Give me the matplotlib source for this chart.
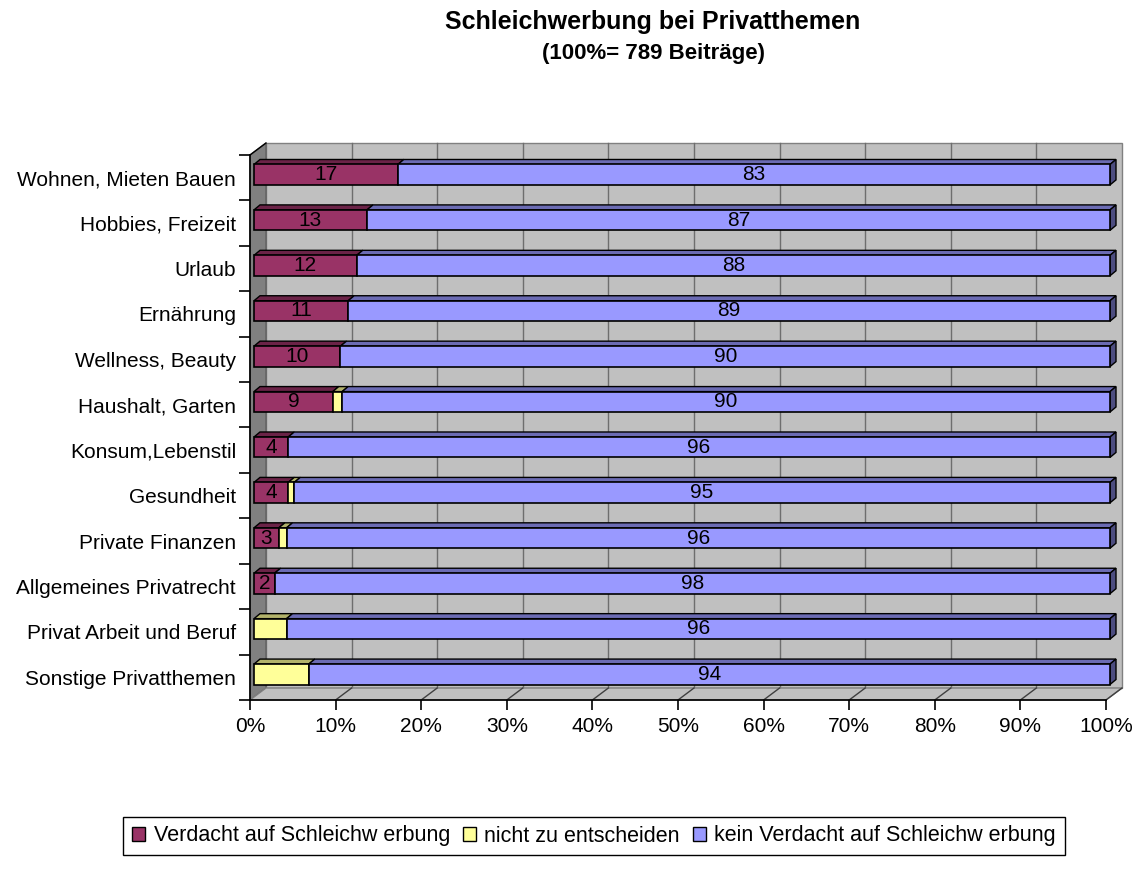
import matplotlib.pyplot as plt
from matplotlib.patches import Polygon, Patch
from matplotlib.lines import Line2D
from matplotlib.transforms import IdentityTransform, offset_copy

plt.rcParams['font.family'] = ['Liberation Sans', 'DejaVu Sans']

categories = ["Wohnen, Mieten Bauen", "Hobbies, Freizeit", "Urlaub", "Ernährung",
              "Wellness, Beauty", "Haushalt, Garten", "Konsum,Lebenstil", "Gesundheit",
              "Private Finanzen", "Allgemeines Privatrecht", "Privat Arbeit und Beruf",
              "Sonstige Privatthemen"]
verdacht = [16.8, 13.2, 12.0, 11.0, 10.1, 9.2, 4.0, 4.0, 2.9, 2.4, 0.0, 0.0]
unklar = [0.0, 0.0, 0.0, 0.0, 0.0, 1.1, 0.0, 0.7, 0.9, 0.0, 3.8, 6.4]
kein = [83.2, 86.8, 88.0, 89.0, 89.9, 89.7, 96.0, 95.3, 96.2, 97.6, 96.2, 93.6]
series_names = ["Verdacht auf Schleichw erbung", "nicht zu entscheiden",
                "kein Verdacht auf Schleichw erbung"]
series = [verdacht, unklar, kein]
show_labels = [True, False, True]
colors = ["#993366", "#FFFF99", "#9999FF"]
tops = ["#6b2347", "#b3b36b", "#6b6bb3"]
sides = ["#4d1a33", "#80804d", "#4d4d80"]
xticks = list(range(0, 101, 10))

W, H = 1138, 874
fig = plt.figure(figsize=(W / 100, H / 100), dpi=100)
ax = fig.add_axes([250 / W, 1 - 700 / H, (1106 - 250) / W, (700 - 155) / H])
ax.set_xlim(0, 100)
ax.set_ylim(len(categories) - 0.5, -0.5)
ax.patch.set_visible(False)
for s in ['top', 'right']:
    ax.spines[s].set_visible(False)
for s in ['left', 'bottom']:
    ax.spines[s].set_linewidth(1.2)
    ax.spines[s].set_zorder(6)

WX, WY = 16, 12       # wall depth in px
BF = (4, 3)           # bar front offset
BB = (10, 8)          # bar back offset
BH = 0.45
y0, y1 = -0.5, len(categories) - 0.5


def P(x, y, dx=0, dy=0):
    px, py = ax.transData.transform((x, y))
    return (px + dx, py + dy)


def poly(pts, fc, ec, lw=1.0, z=1):
    ax.add_patch(Polygon(pts, closed=True, facecolor=fc, edgecolor=ec, linewidth=lw,
                         transform=IdentityTransform(), clip_on=False, zorder=z))


def seg(a, b, color, lw=1.0, z=1):
    ax.add_line(Line2D([a[0], b[0]], [a[1], b[1]], color=color, linewidth=lw,
                       transform=IdentityTransform(), clip_on=False, zorder=z))


# walls
poly([P(0, y0, WX, WY), P(100, y0, WX, WY), P(100, y1, WX, WY), P(0, y1, WX, WY)],
     "#c0c0c0", "#808080", 1.0, 0)
for t in xticks[1:-1]:
    seg(P(t, y0, WX, WY), P(t, y1, WX, WY), "#6e6e6e", 1.0, 0.5)
poly([P(0, y0), P(0, y0, WX, WY), P(0, y1, WX, WY), P(0, y1)], "#808080", "#606060", 1.0, 1)
poly([P(0, y1), P(100, y1), P(100, y1, WX, WY), P(0, y1, WX, WY)], "#c0c0c0", "#808080", 1.0, 1)
for t in xticks[1:]:
    seg(P(t, y1), P(t, y1, WX, WY), "#404040", 1.0, 1.5)
seg(P(0, y0), P(0, y0, WX, WY), "black", 1.0, 1.5)

# bars
front = offset_copy(ax.transData, fig=fig, x=BF[0], y=BF[1], units='dots')
ys = list(range(len(categories)))
lefts = [0.0] * len(categories)
for k, vals in enumerate(series):
    idx = [i for i in ys if vals[i] > 0]
    ax.barh([ys[i] for i in idx], [vals[i] for i in idx], left=[lefts[i] for i in idx],
            height=BH, color=colors[k], edgecolor="black", linewidth=1.2,
            transform=front, clip_on=False, zorder=3)
    for i in idx:
        l, w, yt = lefts[i], vals[i], ys[i] - BH / 2
        poly([P(l, yt, *BF), P(l + w, yt, *BF), P(l + w, yt, *BB), P(l, yt, *BB)],
             tops[k], "black", 1.0, 2.5)
        if k == len(series) - 1:
            yb = ys[i] + BH / 2
            poly([P(l + w, yt, *BF), P(l + w, yt, *BB), P(l + w, yb, *BB), P(l + w, yb, *BF)],
                 sides[k], "black", 1.0, 2.5)
        if show_labels[k]:
            ax.text(l + w / 2, ys[i], str(round(w)), transform=front, ha="center",
                    va="center", fontsize=15, zorder=5)
    lefts = [lefts[i] + vals[i] for i in ys]

# axes ticks
ax.set_yticks(ys)
ax.set_yticklabels(categories, fontsize=15)
ax.tick_params(axis='y', which='major', length=0, pad=10)
ax.set_yticks([y - 0.5 for y in ys] + [y1], minor=True)
ax.tick_params(axis='y', which='minor', length=8, width=1.2, direction='out')
ax.set_xticks(xticks)
ax.set_xticklabels([f"{t}%" for t in xticks], fontsize=15)
ax.tick_params(axis='x', length=7, width=1.2, pad=5)

# title
fig.text(653 / W, 1 - 22 / H, "Schleichwerbung bei Privatthemen", ha="center", va="center",
         fontsize=18, fontweight="bold")
fig.text(653 / W, 1 - 53 / H, "(100%= 789 Beiträge)", ha="center", va="center",
         fontsize=16, fontweight="bold")

# legend
handles = [Patch(facecolor=c, edgecolor="black", linewidth=1.0) for c in colors]
leg = fig.legend(handles, series_names, loc="center", bbox_to_anchor=(594 / W, 1 - 836 / H),
                 ncol=3, fancybox=False, edgecolor="black", framealpha=1, fontsize=15.5,
                 handlelength=0.6, handleheight=0.6, handletextpad=0.4, columnspacing=0.6,
                 borderpad=0.4)
leg.get_frame().set_linewidth(1.0)

fig.savefig("out.png", dpi=100)
